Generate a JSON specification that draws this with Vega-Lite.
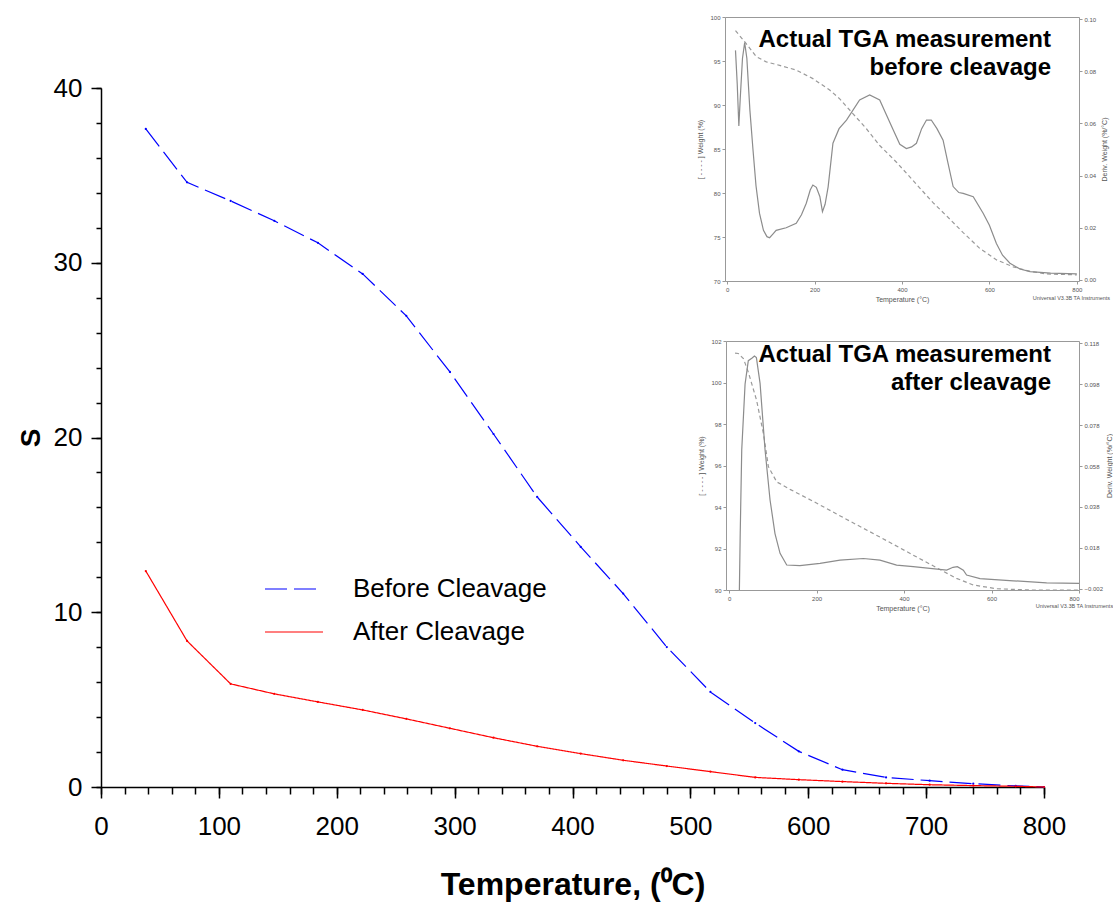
{
  "$schema": "https://vega.github.io/schema/vega-lite/v6.json",
  "width": 943,
  "height": 699,
  "autosize": {"type": "none"},
  "padding": {"left": 101, "top": 88, "right": 69, "bottom": 120},
  "background": "white",
  "config": {
    "font": "Liberation Sans",
    "view": {"stroke": null},
    "axis": {"grid": false, "labelFont": "Liberation Sans", "titleFont": "Liberation Sans"}
  },
  "datasets": {
    "main": [
      {"temperature": 38, "S": 37.66, "series": "Before Cleavage"},
      {"temperature": 73, "S": 34.6, "series": "Before Cleavage"},
      {"temperature": 110, "S": 33.54, "series": "Before Cleavage"},
      {"temperature": 147, "S": 32.4, "series": "Before Cleavage"},
      {"temperature": 184, "S": 31.14, "series": "Before Cleavage"},
      {"temperature": 222, "S": 29.36, "series": "Before Cleavage"},
      {"temperature": 259, "S": 26.96, "series": "Before Cleavage"},
      {"temperature": 296, "S": 23.75, "series": "Before Cleavage"},
      {"temperature": 333, "S": 20.2, "series": "Before Cleavage"},
      {"temperature": 370, "S": 16.6, "series": "Before Cleavage"},
      {"temperature": 407, "S": 13.74, "series": "Before Cleavage"},
      {"temperature": 443, "S": 11.07, "series": "Before Cleavage"},
      {"temperature": 480, "S": 8.01, "series": "Before Cleavage"},
      {"temperature": 517, "S": 5.44, "series": "Before Cleavage"},
      {"temperature": 555, "S": 3.66, "series": "Before Cleavage"},
      {"temperature": 592, "S": 2.04, "series": "Before Cleavage"},
      {"temperature": 629, "S": 0.99, "series": "Before Cleavage"},
      {"temperature": 666, "S": 0.55, "series": "Before Cleavage"},
      {"temperature": 703, "S": 0.36, "series": "Before Cleavage"},
      {"temperature": 740, "S": 0.19, "series": "Before Cleavage"},
      {"temperature": 776, "S": 0.06, "series": "Before Cleavage"},
      {"temperature": 800, "S": 0, "series": "Before Cleavage"},
      {"temperature": 38, "S": 12.36, "series": "After Cleavage"},
      {"temperature": 73, "S": 8.36, "series": "After Cleavage"},
      {"temperature": 110, "S": 5.9, "series": "After Cleavage"},
      {"temperature": 147, "S": 5.33, "series": "After Cleavage"},
      {"temperature": 184, "S": 4.87, "series": "After Cleavage"},
      {"temperature": 222, "S": 4.41, "series": "After Cleavage"},
      {"temperature": 259, "S": 3.9, "series": "After Cleavage"},
      {"temperature": 296, "S": 3.36, "series": "After Cleavage"},
      {"temperature": 333, "S": 2.82, "series": "After Cleavage"},
      {"temperature": 370, "S": 2.33, "series": "After Cleavage"},
      {"temperature": 407, "S": 1.91, "series": "After Cleavage"},
      {"temperature": 443, "S": 1.53, "series": "After Cleavage"},
      {"temperature": 480, "S": 1.2, "series": "After Cleavage"},
      {"temperature": 517, "S": 0.88, "series": "After Cleavage"},
      {"temperature": 555, "S": 0.55, "series": "After Cleavage"},
      {"temperature": 592, "S": 0.42, "series": "After Cleavage"},
      {"temperature": 629, "S": 0.31, "series": "After Cleavage"},
      {"temperature": 666, "S": 0.21, "series": "After Cleavage"},
      {"temperature": 703, "S": 0.13, "series": "After Cleavage"},
      {"temperature": 740, "S": 0.08, "series": "After Cleavage"},
      {"temperature": 776, "S": 0.04, "series": "After Cleavage"},
      {"temperature": 800, "S": 0, "series": "After Cleavage"}
    ],
    "tga1w": [
      {"T": 19, "W": 98.45}, {"T": 43.5, "W": 96.97}, {"T": 66.5, "W": 95.5}, {"T": 89.4, "W": 94.9},
      {"T": 120, "W": 94.5}, {"T": 158, "W": 93.97}, {"T": 196, "W": 93.0}, {"T": 234.5, "W": 91.7},
      {"T": 257.5, "W": 90.7}, {"T": 288, "W": 89.0}, {"T": 318.6, "W": 87.3}, {"T": 349, "W": 85.4},
      {"T": 387.4, "W": 83.5}, {"T": 425.6, "W": 81.4}, {"T": 471, "W": 78.9}, {"T": 502, "W": 77.4},
      {"T": 540, "W": 75.5}, {"T": 578, "W": 73.7}, {"T": 616.5, "W": 72.4}, {"T": 654.7, "W": 71.6},
      {"T": 693, "W": 71.1}, {"T": 731, "W": 70.8}, {"T": 800, "W": 70.7}
    ],
    "tga1d": [
      {"T": 19, "D": 0.088}, {"T": 23, "D": 0.075}, {"T": 26.7, "D": 0.059}, {"T": 30, "D": 0.07},
      {"T": 35, "D": 0.085}, {"T": 40, "D": 0.091}, {"T": 45, "D": 0.085}, {"T": 52, "D": 0.065},
      {"T": 59, "D": 0.05}, {"T": 66, "D": 0.036}, {"T": 74, "D": 0.0255}, {"T": 83, "D": 0.019},
      {"T": 91, "D": 0.0166}, {"T": 97, "D": 0.0162}, {"T": 104, "D": 0.0175}, {"T": 112, "D": 0.019},
      {"T": 135, "D": 0.02}, {"T": 158, "D": 0.0217}, {"T": 170, "D": 0.025}, {"T": 181, "D": 0.0294},
      {"T": 190, "D": 0.0345}, {"T": 196, "D": 0.0364}, {"T": 204, "D": 0.0355}, {"T": 212, "D": 0.032},
      {"T": 218, "D": 0.0262}, {"T": 224, "D": 0.029}, {"T": 231, "D": 0.0357}, {"T": 242, "D": 0.0524},
      {"T": 256, "D": 0.058}, {"T": 273, "D": 0.0613}, {"T": 303, "D": 0.069}, {"T": 326, "D": 0.0709},
      {"T": 349, "D": 0.069}, {"T": 365, "D": 0.063}, {"T": 380, "D": 0.0575}, {"T": 395, "D": 0.052},
      {"T": 410, "D": 0.0504}, {"T": 422, "D": 0.051}, {"T": 433, "D": 0.0524}, {"T": 445, "D": 0.058},
      {"T": 456, "D": 0.0613}, {"T": 467, "D": 0.0613}, {"T": 480, "D": 0.058}, {"T": 494, "D": 0.0536},
      {"T": 505, "D": 0.045}, {"T": 517, "D": 0.0358}, {"T": 530, "D": 0.0335}, {"T": 540, "D": 0.0332},
      {"T": 563, "D": 0.0319}, {"T": 586, "D": 0.0255}, {"T": 600, "D": 0.021}, {"T": 616, "D": 0.014},
      {"T": 630, "D": 0.0095}, {"T": 647, "D": 0.0064}, {"T": 670, "D": 0.0042}, {"T": 693, "D": 0.0032},
      {"T": 740, "D": 0.0026}, {"T": 800, "D": 0.0023}
    ],
    "tga2w": [
      {"T": 13.7, "W": 101.42}, {"T": 21, "W": 101.4}, {"T": 32.8, "W": 101.15}, {"T": 44, "W": 100.5},
      {"T": 63, "W": 99.14}, {"T": 78.5, "W": 97.54}, {"T": 90, "W": 95.94}, {"T": 109, "W": 95.21},
      {"T": 139.4, "W": 94.85}, {"T": 192.8, "W": 94.27}, {"T": 269, "W": 93.4}, {"T": 345, "W": 92.55},
      {"T": 421, "W": 91.68}, {"T": 482, "W": 90.99}, {"T": 520, "W": 90.56}, {"T": 558.5, "W": 90.24},
      {"T": 612, "W": 90.06}, {"T": 688, "W": 90.0}, {"T": 800, "W": 90.0}
    ],
    "tga2d": [
      {"T": 23.6, "D": -0.0026}, {"T": 25.5, "D": 0.025}, {"T": 29, "D": 0.066}, {"T": 36.6, "D": 0.098},
      {"T": 44, "D": 0.1095}, {"T": 52, "D": 0.1107}, {"T": 58, "D": 0.1118}, {"T": 62.5, "D": 0.111},
      {"T": 70.9, "D": 0.0984}, {"T": 82.3, "D": 0.0658}, {"T": 93.7, "D": 0.0414}, {"T": 105, "D": 0.025},
      {"T": 116.6, "D": 0.0153}, {"T": 131.8, "D": 0.0096}, {"T": 162, "D": 0.0093}, {"T": 208, "D": 0.0104},
      {"T": 253.7, "D": 0.012}, {"T": 307, "D": 0.0128}, {"T": 345, "D": 0.012}, {"T": 383, "D": 0.0096},
      {"T": 421, "D": 0.0088}, {"T": 497.5, "D": 0.0071}, {"T": 512, "D": 0.0085}, {"T": 522, "D": 0.0088},
      {"T": 535.6, "D": 0.0071}, {"T": 543, "D": 0.0047}, {"T": 573.7, "D": 0.003}, {"T": 650, "D": 0.0019},
      {"T": 726, "D": 0.0009}, {"T": 800, "D": 0.0006}
    ]
  },
  "resolve": {"scale": {"x": "independent", "y": "independent"}},
  "layer": [
    {
      "data": {"name": "main"},
      "mark": {"type": "point", "opacity": 0},
      "encoding": {
        "x": {"field": "temperature", "type": "quantitative",
          "scale": {"domain": [0, 800], "nice": false},
          "axis": {"orient": "bottom", "values": [0,20,40,60,80,100,120,140,160,180,200,220,240,260,280,300,320,340,360,380,400,420,440,460,480,500,520,540,560,580,600,620,640,660,680,700,720,740,760,780,800],
            "labels": false, "domain": false, "tickSize": 7, "tickWidth": 1.5, "tickColor": "black", "title": null}},
        "y": {"field": "S", "type": "quantitative",
          "scale": {"domain": [0, 40], "nice": false},
          "axis": {"orient": "left", "values": [0,2,4,6,8,10,12,14,16,18,20,22,24,26,28,30,32,34,36,38,40],
            "labels": false, "domain": false, "tickSize": 5, "tickWidth": 1.5, "tickColor": "black", "title": null}}
      }
    },
    {
      "data": {"name": "main"},
      "mark": {"type": "line", "strokeWidth": 1.2, "point": {"filled": true, "size": 5}},
      "encoding": {
        "x": {"field": "temperature", "type": "quantitative",
          "scale": {"domain": [0, 800], "nice": false},
          "axis": {"orient": "bottom", "values": [0,100,200,300,400,500,600,700,800],
            "tickSize": 11, "tickWidth": 1.5, "tickColor": "black", "domainColor": "black", "domainWidth": 1.5,
            "labelFontSize": 26, "labelColor": "black", "labelPadding": 15, "labelFlush": false,
            "title": "Temperature, (⁰C)", "titleFontSize": 32, "titleFontWeight": "bold", "titleColor": "black", "titlePadding": 30}},
        "y": {"field": "S", "type": "quantitative",
          "scale": {"domain": [0, 40], "nice": false},
          "axis": {"orient": "left", "values": [0,10,20,30,40],
            "tickSize": 10, "tickWidth": 1.5, "tickColor": "black", "domainColor": "black", "domainWidth": 1.5,
            "labelFontSize": 26, "labelColor": "black", "labelPadding": 9,
            "title": "S", "titleFontSize": 28, "titleFontWeight": "bold", "titleColor": "black", "titlePadding": 8}},
        "color": {"field": "series", "type": "nominal",
          "scale": {"domain": ["Before Cleavage", "After Cleavage"], "range": ["#0000ff", "#ff0000"]},
          "legend": {"orient": "none", "legendX": 163, "legendY": 471, "title": null,
            "labelFontSize": 26, "labelColor": "black", "labelFont": "Liberation Sans", "labelLimit": 0,
            "symbolType": "stroke", "symbolSize": 3364, "symbolStrokeWidth": 1.2,
            "labelOffset": 29, "rowPadding": 0}},
        "strokeDash": {"field": "series", "type": "nominal",
          "scale": {"domain": ["Before Cleavage", "After Cleavage"], "range": [[22, 7], [1, 0]]}}
      }
    },
    {
      "data": {"name": "tga1w"},
      "mark": {"type": "line", "color": "#9a9a9a", "strokeWidth": 1.2, "strokeDash": [4, 3]},
      "encoding": {
        "x": {"field": "T", "type": "quantitative",
          "scale": {"domain": [-5, 805], "range": [624, 978], "nice": false},
          "axis": {"orient": "bottom", "offset": -506, "values": [0, 200, 400, 600, 800],
            "domainColor": "#999", "tickColor": "#999", "tickSize": 3, "labelFontSize": 6, "labelColor": "#555", "labelPadding": 2,
            "title": "Temperature (°C)", "titleFontSize": 7, "titleFontWeight": "normal", "titleColor": "#555", "titlePadding": 3}},
        "y": {"field": "W", "type": "quantitative",
          "scale": {"domain": [70, 100], "range": [193, -71], "nice": false, "zero": false},
          "axis": {"orient": "left", "offset": -624, "values": [70, 75, 80, 85, 90, 95, 100],
            "domainColor": "#999", "tickColor": "#999", "tickSize": 3, "labelFontSize": 6, "labelColor": "#555", "labelPadding": 2,
            "title": "[ - - - - ] Weight (%)", "titleFontSize": 7, "titleFontWeight": "normal", "titleColor": "#555", "titlePadding": 6}}
      }
    },
    {
      "data": {"name": "tga1d"},
      "mark": {"type": "line", "color": "#8c8c8c", "strokeWidth": 1.2},
      "encoding": {
        "x": {"field": "T", "type": "quantitative",
          "scale": {"domain": [-5, 805], "range": [624, 978], "nice": false},
          "axis": {"orient": "top", "offset": 71, "labels": false, "ticks": false, "domainColor": "#999", "title": null}},
        "y": {"field": "D", "type": "quantitative",
          "scale": {"domain": [-0.0004, 0.1008], "range": [193, -71], "nice": false, "zero": false},
          "axis": {"orient": "right", "offset": 35, "values": [0, 0.02, 0.04, 0.06, 0.08, 0.1], "format": ".2f",
            "domainColor": "#999", "tickColor": "#999", "tickSize": 3, "labelFontSize": 6, "labelColor": "#555", "labelPadding": 2,
            "title": "Deriv. Weight (%/°C)", "titleAngle": -90, "titleFontSize": 7, "titleFontWeight": "normal", "titleColor": "#555", "titlePadding": 12}}
      }
    },
    {
      "data": {"name": "tga2w"},
      "mark": {"type": "line", "color": "#9a9a9a", "strokeWidth": 1.2, "strokeDash": [4, 3]},
      "encoding": {
        "x": {"field": "T", "type": "quantitative",
          "scale": {"domain": [-7, 800], "range": [625, 978], "nice": false},
          "axis": {"orient": "bottom", "offset": -197, "values": [0, 200, 400, 600, 800],
            "domainColor": "#999", "tickColor": "#999", "tickSize": 3, "labelFontSize": 6, "labelColor": "#555", "labelPadding": 2,
            "title": "Temperature (°C)", "titleFontSize": 7, "titleFontWeight": "normal", "titleColor": "#555", "titlePadding": 3}},
        "y": {"field": "W", "type": "quantitative",
          "scale": {"domain": [90, 102], "range": [502, 253], "nice": false, "zero": false},
          "axis": {"orient": "left", "offset": -625, "values": [90, 92, 94, 96, 98, 100, 102],
            "domainColor": "#999", "tickColor": "#999", "tickSize": 3, "labelFontSize": 6, "labelColor": "#555", "labelPadding": 2,
            "title": "[ - - - - ] Weight (%)", "titleFontSize": 7, "titleFontWeight": "normal", "titleColor": "#555", "titlePadding": 6}}
      }
    },
    {
      "data": {"name": "tga2d"},
      "mark": {"type": "line", "color": "#8c8c8c", "strokeWidth": 1.2},
      "encoding": {
        "x": {"field": "T", "type": "quantitative",
          "scale": {"domain": [-7, 800], "range": [625, 978], "nice": false},
          "axis": {"orient": "top", "offset": -253, "labels": false, "ticks": false, "domainColor": "#999", "title": null}},
        "y": {"field": "D", "type": "quantitative",
          "scale": {"domain": [-0.0026, 0.1191], "range": [502, 253], "nice": false, "zero": false},
          "axis": {"orient": "right", "offset": 35, "values": [-0.002, 0.018, 0.038, 0.058, 0.078, 0.098, 0.118], "format": ".3f",
            "domainColor": "#999", "tickColor": "#999", "tickSize": 3, "labelFontSize": 6, "labelColor": "#555", "labelPadding": 2,
            "title": "Deriv. Weight (%/°C)", "titleAngle": -90, "titleFontSize": 7, "titleFontWeight": "normal", "titleColor": "#555", "titlePadding": 10}}
      }
    },
    {
      "data": {"values": [{}]},
      "mark": {"type": "text", "text": ["Actual TGA measurement", "before cleavage"], "align": "right", "baseline": "alphabetic",
        "fontSize": 24, "fontWeight": "bold", "lineHeight": 28, "font": "Liberation Sans", "color": "black"},
      "encoding": {
        "x": {"datum": 741, "type": "quantitative", "scale": {"domain": [-5, 805], "range": [624, 978], "nice": false}, "axis": null},
        "y": {"datum": 96.6, "type": "quantitative", "scale": {"domain": [70, 100], "range": [193, -71], "nice": false, "zero": false}, "axis": null}
      }
    },
    {
      "data": {"values": [{}]},
      "mark": {"type": "text", "text": ["Actual TGA measurement", "after cleavage"], "align": "right", "baseline": "alphabetic",
        "fontSize": 24, "fontWeight": "bold", "lineHeight": 28, "font": "Liberation Sans", "color": "black"},
      "encoding": {
        "x": {"datum": 736, "type": "quantitative", "scale": {"domain": [-7, 800], "range": [625, 978], "nice": false}, "axis": null},
        "y": {"datum": 100.99, "type": "quantitative", "scale": {"domain": [90, 102], "range": [502, 253], "nice": false, "zero": false}, "axis": null}
      }
    },
    {
      "data": {"values": [{}]},
      "mark": {"type": "text", "text": "Universal V3.3B TA Instruments", "align": "left", "baseline": "middle",
        "fontSize": 5.5, "font": "Liberation Sans", "color": "#555"},
      "encoding": {
        "x": {"datum": 699, "type": "quantitative", "scale": {"domain": [-5, 805], "range": [624, 978], "nice": false}, "axis": null},
        "y": {"datum": 68.07, "type": "quantitative", "scale": {"domain": [70, 100], "range": [193, -71], "nice": false, "zero": false}, "axis": null}
      }
    },
    {
      "data": {"values": [{}]},
      "mark": {"type": "text", "text": "Universal V3.3B TA Instruments", "align": "left", "baseline": "middle",
        "fontSize": 5.5, "font": "Liberation Sans", "color": "#555"},
      "encoding": {
        "x": {"datum": 701, "type": "quantitative", "scale": {"domain": [-7, 800], "range": [625, 978], "nice": false}, "axis": null},
        "y": {"datum": 89.23, "type": "quantitative", "scale": {"domain": [90, 102], "range": [502, 253], "nice": false, "zero": false}, "axis": null}
      }
    }
  ]
}
